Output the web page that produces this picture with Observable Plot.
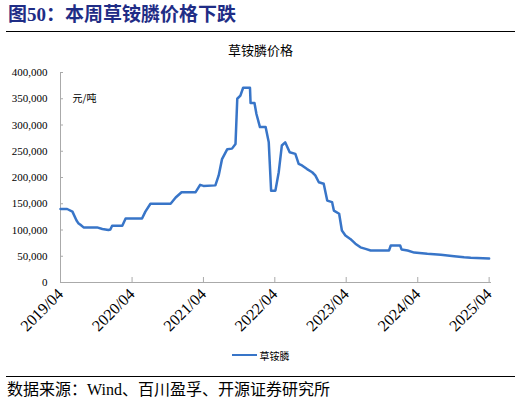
<!DOCTYPE html>
<html>
<head>
<meta charset="utf-8">
<script src="https://cdn.jsdelivr.net/npm/d3@7"></script>
<script src="https://cdn.jsdelivr.net/npm/@observablehq/plot@0.6"></script>
<style>
  body { margin: 0; background: #fff; }
  #page { width: 521px; font-family: "Liberation Serif", "Noto Sans CJK SC", serif; color: #000; }
  #title { margin: 0 6px; border-bottom: 1.5px solid #000; color: #1f2d86;
           font-weight: bold; font-size: 19px; line-height: 30px; padding-left: 2px; box-sizing: border-box; height: 32px; }
  #ctitle { height: 30px; text-align: center; font-size: 13px; line-height: 37px; }
  #legend { height: 32px; display: flex; justify-content: center; align-items: center; font-size: 10px; padding-bottom: 10px; box-sizing: border-box; }
  #legend .sw { display: inline-block; width: 25px; height: 2.5px; background: #3875c8; margin-right: 3px; }
  #source { margin: 0 6px; border-top: 1.5px solid #000; font-size: 16px; padding-left: 1px; line-height: 26px; }
</style>
</head>
<body>
<div id="page">
  <div id="title">图50：本周草铵膦价格下跌</div>
  <div id="ctitle">草铵膦价格</div>
  <div id="chart"></div>
  <div id="legend"><span class="sw"></span><span>草铵膦</span></div>
  <div id="source">数据来源：Wind、百川盈孚、开源证券研究所</div>
</div>
<script>
// 草铵膦价格 (元/吨)
const dates = [
  "2019-04-01", "2019-05-05", "2019-06-01", "2019-06-22", "2019-07-01", "2019-07-12", "2019-07-28",
  "2019-10-05", "2019-11-01", "2019-12-02", "2019-12-12", "2019-12-21", "2020-02-11", "2020-02-28",
  "2020-05-22", "2020-06-08", "2020-07-04", "2020-10-15", "2020-11-10", "2020-12-10", "2021-02-20",
  "2021-03-15", "2021-04-01", "2021-06-01", "2021-06-18", "2021-07-05", "2021-08-01", "2021-08-25",
  "2021-09-12", "2021-09-21", "2021-10-07", "2021-10-21", "2021-11-25", "2021-11-28", "2021-12-18",
  "2021-12-28", "2022-01-15", "2022-02-13", "2022-03-01", "2022-03-13", "2022-04-04", "2022-04-21",
  "2022-05-07", "2022-05-24", "2022-06-16", "2022-07-15", "2022-08-01", "2022-08-18", "2022-09-13",
  "2022-10-09", "2022-10-25", "2022-11-12", "2022-12-07", "2022-12-25", "2023-01-19", "2023-01-28",
  "2023-02-24", "2023-03-10", "2023-03-28", "2023-04-22", "2023-05-18", "2023-06-13", "2023-07-09",
  "2023-08-04", "2023-11-06", "2023-11-15", "2024-01-02", "2024-01-09", "2024-02-09", "2024-03-14",
  "2024-05-20", "2024-07-28", "2024-10-04", "2024-11-24", "2024-12-28", "2025-04-01"
];
const prices = [
  140000, 140000, 135000, 118000, 113000, 110000, 105000,
  105000, 102000, 100000, 101000, 108000, 108000, 122000,
  122000, 135000, 150000, 150000, 162000, 172000, 172000,
  186000, 184000, 185000, 204000, 235000, 254000, 255000,
  264000, 350000, 356000, 371000, 371000, 342000, 342000,
  321000, 296000, 296000, 267000, 175000, 175000, 210000,
  261000, 267000, 248000, 245000, 226000, 223000, 216000,
  210000, 204000, 191000, 188000, 156000, 153000, 137000,
  131000, 99000, 89500, 83000, 74000, 67000, 64000,
  61000, 61000, 70500, 70500, 63000, 61000, 57000,
  54600, 52700, 50000, 48000, 47000, 45700
];
const xTicks = ["2019-04-01", "2020-04-01", "2021-04-01", "2022-04-01", "2023-04-01", "2024-04-01", "2025-04-01"];
const yTicks = [0, 50000, 100000, 150000, 200000, 250000, 300000, 350000, 400000];
const unitLabel = "元/吨";

const data = dates.map((d, i) => ({date: new Date(d), price: prices[i]}));

let chart = Plot.plot({
  width: 521,
  height: 282,
  marginTop: 10,
  marginLeft: 60,
  marginRight: 31,
  marginBottom: 62,
  style: {fontFamily: '"Liberation Serif", "Noto Sans CJK SC", serif', fontSize: "11px", color: "#000", background: "#fff"},
  x: {type: "utc", domain: [new Date("2019-04-01"), new Date("2025-04-08")]},
  y: {domain: [0, 400000]},
  marks: [
    Plot.frame({anchor: "left", stroke: "#aaa"}),
    Plot.frame({anchor: "bottom", stroke: "#aaa"}),
    Plot.axisY({ticks: yTicks, tickFormat: d3.format(","), tickSize: -3, tickPadding: 16, stroke: "#aaa", label: null}),
    Plot.axisX({ticks: xTicks.map(d => new Date(d)), tickFormat: d3.utcFormat("%Y/%m"), tickRotate: -45,
      tickSize: -5, tickPadding: 14, stroke: "#aaa", fontSize: 16, label: null}),
    Plot.text([unitLabel], {frameAnchor: "top-left", dx: 12, dy: 22, fontSize: 10, fontFamily: '"Noto Sans CJK SC"'}),
    Plot.line(data, {x: "date", y: "price", stroke: "#3875c8", strokeWidth: 2.5})
  ]
})

d3.select('#chart').append(() => chart)
</script>
</body>
</html>
